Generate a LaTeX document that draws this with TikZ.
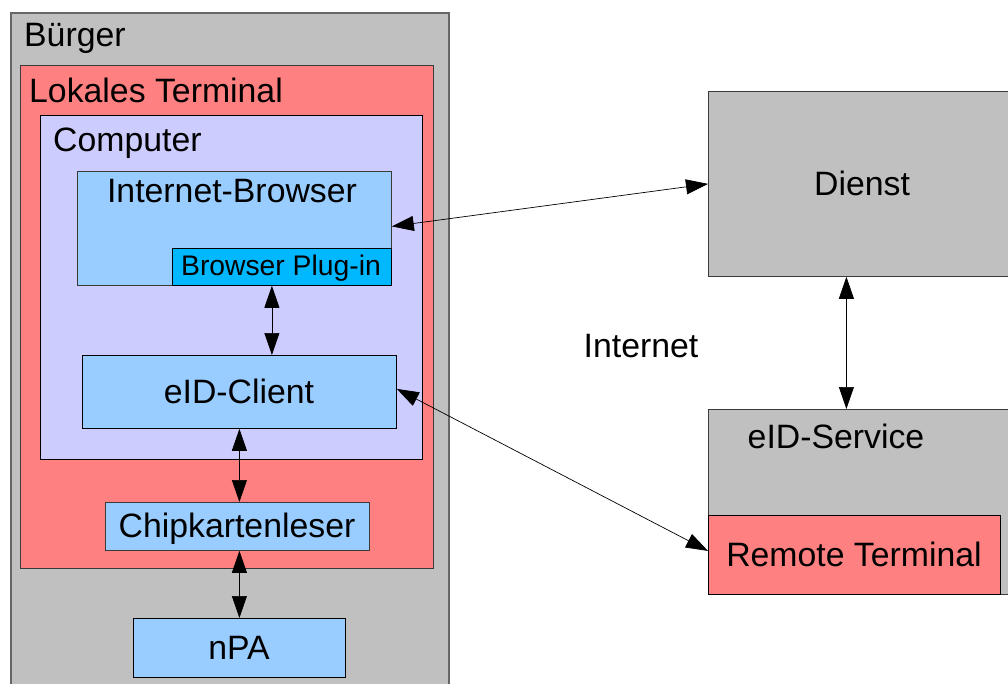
\documentclass[tikz,border=0pt]{standalone}
\usepackage{fontspec}
\setmainfont{Liberation Sans}
\usetikzlibrary{arrows.meta}
\definecolor{grayfill}{HTML}{C0C0C0}
\definecolor{redfill}{HTML}{FF8080}
\definecolor{lilac}{HTML}{CCCCFF}
\definecolor{lightblue}{HTML}{99CCFF}
\definecolor{plugblue}{HTML}{00B8FF}
\definecolor{edge}{HTML}{3A3A3A}
\definecolor{outeredge}{HTML}{666666}
\begin{document}
\begin{tikzpicture}[x=1pt,y=-1pt,
  box/.style={draw=edge, line width=0.8pt, rectangle, inner sep=0pt, anchor=north west},
  lbl/.style={inner sep=0pt, anchor=base, font=\fontsize{33.8}{40}\selectfont},
  lbll/.style={inner sep=0pt, anchor=base west, font=\fontsize{33.8}{40}\selectfont},
  conn/.style={draw=black, line width=0.7pt, {Triangle[length=22pt,width=15pt]}-{Triangle[length=22pt,width=15pt]}}
]
\useasboundingbox (0,0) rectangle (1008,684);
\clip (0,0) rectangle (1008,684);
% boxes
\node[box, draw=outeredge, line width=1.6pt, fill=grayfill, minimum width=438pt, minimum height=720pt] (buerger) at (10,12) {};
\node[box, fill=redfill, minimum width=413pt, minimum height=503pt] (lokal) at (20,65) {};
\node[box, draw=black, fill=lilac, minimum width=382pt, minimum height=344pt] (computer) at (40,115) {};
\node[box, fill=lightblue, minimum width=314pt, minimum height=114pt] (browser) at (77,171) {};
\node[box, draw=black, fill=plugblue, minimum width=219pt, minimum height=37pt] (plugin) at (172,248) {};
\node[box, draw=black, fill=lightblue, minimum width=314pt, minimum height=73pt] (client) at (82,355) {};
\node[box, fill=lightblue, minimum width=264pt, minimum height=48pt] (chip) at (105,502) {};
\node[box, draw=black, fill=lightblue, minimum width=212pt, minimum height=59pt] (npa) at (133,618) {};
\node[box, fill=grayfill, minimum width=330pt, minimum height=185pt] (dienst) at (708,91) {};
\node[box, fill=grayfill, minimum width=330pt, minimum height=185pt] (eidservice) at (708,409) {};
\node[box, draw=black, fill=redfill, minimum width=292pt, minimum height=79pt] (remote) at (708,515) {};
% labels
\node[lbll] (tbuerger) at (24,47) {Bürger};
\node[lbll] (tlokal) at (29,103) {Lokales Terminal};
\node[lbll] (tcomputer) at (53,152) {Computer};
\node[lbl] (tbrowser) at (232,203) {Internet-Browser};
\node[lbl, font=\fontsize{28.3}{34}\selectfont] (tplugin) at (281,276) {Browser Plug-in};
\node[lbl] (tclient) at (239,403) {eID-Client};
\node[lbl] (tchip) at (237,537) {Chipkartenleser};
\node[lbl] (tnpa) at (239,659) {nPA};
\node[lbl] (tdienst) at (862,196) {Dienst};
\node[lbl] (tinternet) at (641,357) {Internet};
\node[lbl] (tservice) at (836,448) {eID-Service};
\node[lbl] (tremote) at (854,566) {Remote Terminal};
% connectors
\draw[conn] ([yshift=2pt]browser.east) -- (dienst.west);
\draw[conn] ([xshift=-10pt]plugin.south) -- ([xshift=-10pt]plugin.south |- client.north);
\draw[conn] ([yshift=3pt]client.east) -- ([yshift=4pt]remote.west);
\draw[conn] (client.south) -- (client.south |- chip.north);
\draw[conn] (npa.north |- chip.south) -- (npa.north);
\draw[conn] ([xshift=-27pt]dienst.south) -- ([xshift=-27pt]dienst.south |- eidservice.north);
\end{tikzpicture}
\end{document}
